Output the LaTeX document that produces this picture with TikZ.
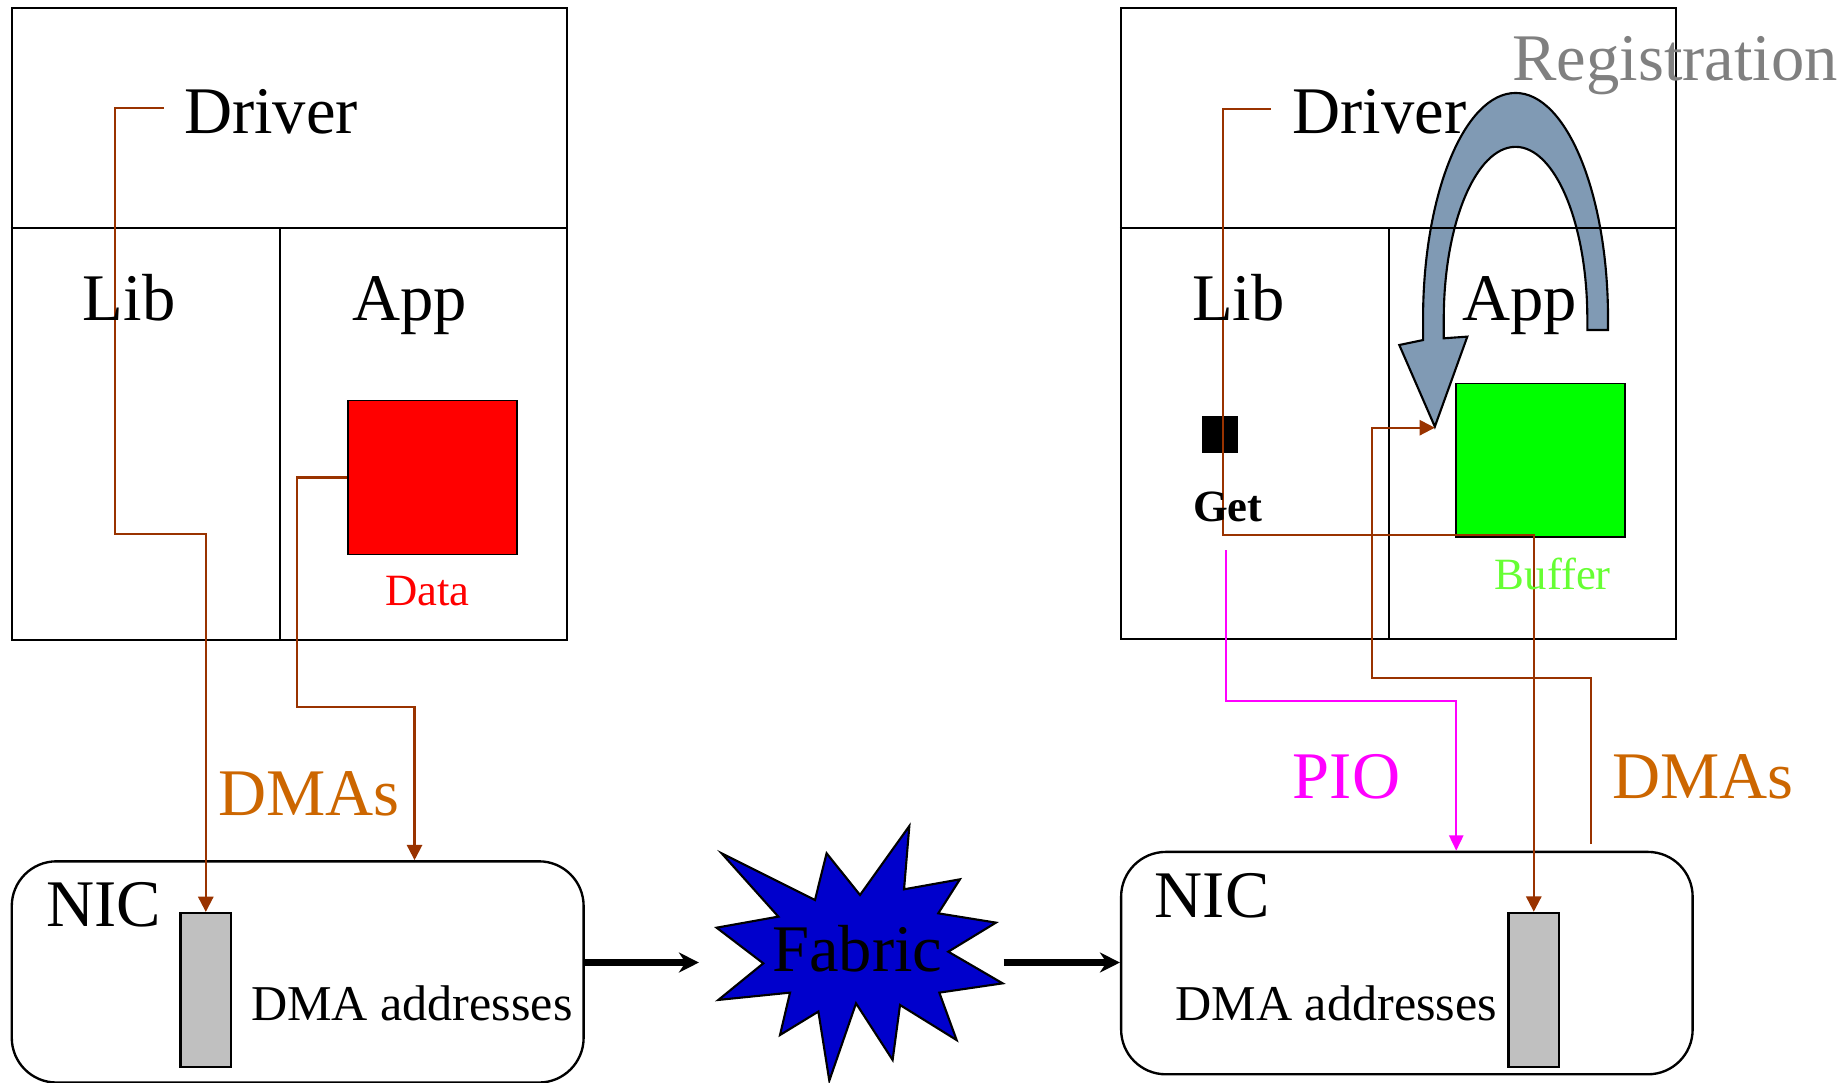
\documentclass[tikz,border=0pt]{standalone}
\usepackage{fontspec}
\setmainfont{Liberation Serif}
\usetikzlibrary{arrows.meta}

\definecolor{dmaline}{RGB}{153,51,0}
\definecolor{dmatext}{RGB}{204,102,0}
\definecolor{piocol}{RGB}{255,0,255}
\definecolor{bufgreen}{RGB}{102,255,51}
\definecolor{regfill}{RGB}{128,154,180}
\definecolor{regtext}{RGB}{128,128,128}
\definecolor{fabricblue}{RGB}{0,0,204}
\definecolor{addrgray}{RGB}{192,192,192}

\tikzset{
  lbl/.style={inner sep=0pt, anchor=base west},
  bigtxt/.style={lbl, font=\fontsize{28.3}{30}\selectfont},
  smalltxt/.style={lbl, font=\fontsize{19}{21}\selectfont},
  addrtxt/.style={lbl, font=\fontsize{21.3}{24}\selectfont},
  hostbox/.style={draw, line width=0.9pt, inner sep=0pt, anchor=north west},
  divider/.style={line width=0.9pt},
  nicbox/.style={draw, line width=1pt, rounded corners=19pt, inner sep=0pt, anchor=north west},
  addrbar/.style={draw, fill=addrgray, line width=1pt, inner sep=0pt, anchor=north west,
                  minimum width=21.6pt, minimum height=65.5pt},
  membox/.style={draw, line width=0.8pt, inner sep=0pt, anchor=north west,
                 minimum width=71.85pt, minimum height=65.4pt},
  dmapath/.style={draw=dmaline, line width=0.9pt},
  dmaarrow/.style={dmapath, -{Triangle[length=6.5pt,width=6.5pt]}},
  pioarrow/.style={draw=piocol, line width=0.9pt, -{Triangle[length=6.5pt,width=6pt]}},
  wire/.style={line width=2.6pt, -{Stealth[length=8.5pt,width=8.5pt]}},
}

\begin{document}
\begin{tikzpicture}[x=0.5pt, y=-0.5pt]
\useasboundingbox (0,0) rectangle (1568,920);

% ---------- registration arrow (drawn first, box lines cross it) ----------
\coordinate (regTip) at (1219.4,362.6);
\path[draw=black, fill=regfill, line width=0.9pt, line join=miter]
  (1209.4,289) -- (1209.4,271)
  .. controls (1209.4,164.96) and (1244.59,79) .. (1288,79)
  .. controls (1331.41,79) and (1366.6,164.96) .. (1366.6,271)
  -- (1366.6,280.5) -- (1349,280.5) -- (1349,271)
  .. controls (1349,190.25) and (1321.69,124.8) .. (1288,124.8)
  .. controls (1254.31,124.8) and (1227,190.25) .. (1227,271)
  -- (1227,287.5) -- (1247,286.1) -- (regTip) -- (1189.2,293.2) -- cycle;

% ---------- left host ----------
\node[hostbox, minimum width=236pt, minimum height=268.5pt] (hostL) at (9,6) {};
\draw[divider] (hostL.west |- 0,194) -- (hostL.east |- 0,194);
\draw[divider] (238,194) -- (238,194 |- hostL.south);
\node[membox, fill=red] (dataL) at (294.7,339.6) {};

% ---------- right host ----------
\node[hostbox, minimum width=235.85pt, minimum height=268.25pt] (hostR) at (951.8,6) {};
\draw[divider] (hostR.west |- 0,194) -- (hostR.east |- 0,194);
\draw[divider] (1180.5,194) -- (1180.5,194 |- hostR.south);
\node[membox, fill=green] (bufR) at (1236.8,325.1) {};
\node[draw, fill=black, inner sep=0pt, anchor=north west,
      minimum width=15.15pt, minimum height=15.45pt] (getSq) at (1021.2,353.5) {};

% ---------- NICs ----------
\node[nicbox, minimum width=243pt, minimum height=94pt] (nicL) at (9,731) {};
\node[addrbar] (barL) at (152.3,775) {};
\node[nicbox, minimum width=242.85pt, minimum height=94.5pt] (nicR) at (951.8,723) {};
\node[addrbar] (barR) at (1280.9,774.8) {};

% ---------- fabric ----------
\path[draw=black, fill=fabricblue, line width=0.9pt, line join=miter]
  (613.3,725.2) -- (692.6,764.9) -- (702.5,725.2) -- (730.9,760.6)
  -- (772.8,702) -- (768.3,755.8) -- (815.8,747.3) -- (797.4,776.2)
  -- (846.4,784.1) -- (805.9,808.8) -- (852.1,835.7) -- (798.3,843.6)
  -- (813,883.9) -- (764.9,854.1) -- (758.6,900.8) -- (727.5,852.7)
  -- (704.8,918.4) -- (695.5,859.7) -- (662.9,879.6) -- (671.4,843.6)
  -- (610.5,849.8) -- (648.7,818.7) -- (609,788.4) -- (661.5,779) -- cycle;
\coordinate (fabIn) at (594,818);
\coordinate (fabOut) at (853,818);
\draw[wire] (nicL.east |- fabIn) -- (fabIn);
\draw[wire] (fabOut) -- (nicR.west |- fabOut);

% ---------- DMA and PIO paths ----------
\coordinate (drvLwire) at (139,92);
\draw[dmaarrow] (drvLwire) -- (97.6,92) -- (97.6,454) -- (barL.north |- 0,454) -- (barL.north);
\draw[dmaarrow] (dataL.west) -| (252.6,600.6) -- (352.3,600.6) -- (352.3,600.6 |- nicL.north);

\coordinate (drvRwire) at (1080,92.3);
\draw[dmaarrow] (drvRwire) -- (1039.6,92.3) -- (1039.6,454.7) -- (barR.north |- 0,454.7) -- (barR.north);
\coordinate (getWire) at (1041.8,467.8);
\draw[pioarrow] (getWire) -- (1041.8,595.5) -- (1237.6,595.5) -- (1237.6,595.5 |- nicR.north);
\coordinate (nicRwire) at (1351.9,717.3);
\draw[dmaarrow] (nicRwire) -- (1351.9,576.5) -- (1165.8,576.5) -- (1165.8,363.5) -- (regTip |- 0,363.5);

% ---------- labels ----------
\node[bigtxt] (drvL) at (156,113.4) {Driver};
\node[bigtxt] (libL) at (70,272) {Lib};
\node[bigtxt] (appL) at (299,272) {App};
\node[smalltxt, text=red] (dataTxt) at (327,515) {Data};
\node[bigtxt, text=dmatext] (dmaTxtL) at (185,693) {DMAs};
\node[bigtxt] (nicTxtL) at (39,787) {NIC};
\node[addrtxt] (addrTxtL) at (213,867.7) {DMA addresses};
\node[bigtxt] (fabTxt) at (656,825.8) {Fabric};

\node[bigtxt, text=regtext] (regTxt) at (1285,68.7) {Registration};
\node[bigtxt] (drvR) at (1098,113.4) {Driver};
\node[bigtxt] (libR) at (1012.7,272) {Lib};
\node[bigtxt] (appR) at (1242.5,272) {App};
\node[smalltxt, font=\fontsize{19}{21}\selectfont\bfseries] (getTxt) at (1013.6,443.3) {Get};
\node[smalltxt, text=bufgreen] (bufTxt) at (1270,501) {Buffer};
\node[bigtxt, text=piocol] (pioTxt) at (1098.3,678.4) {PIO};
\node[bigtxt, text=dmatext] (dmaTxtR) at (1370,678.4) {DMAs};
\node[bigtxt] (nicTxtR) at (981,779.6) {NIC};
\node[addrtxt] (addrTxtR) at (998.6,867.7) {DMA addresses};
\end{tikzpicture}
\end{document}
